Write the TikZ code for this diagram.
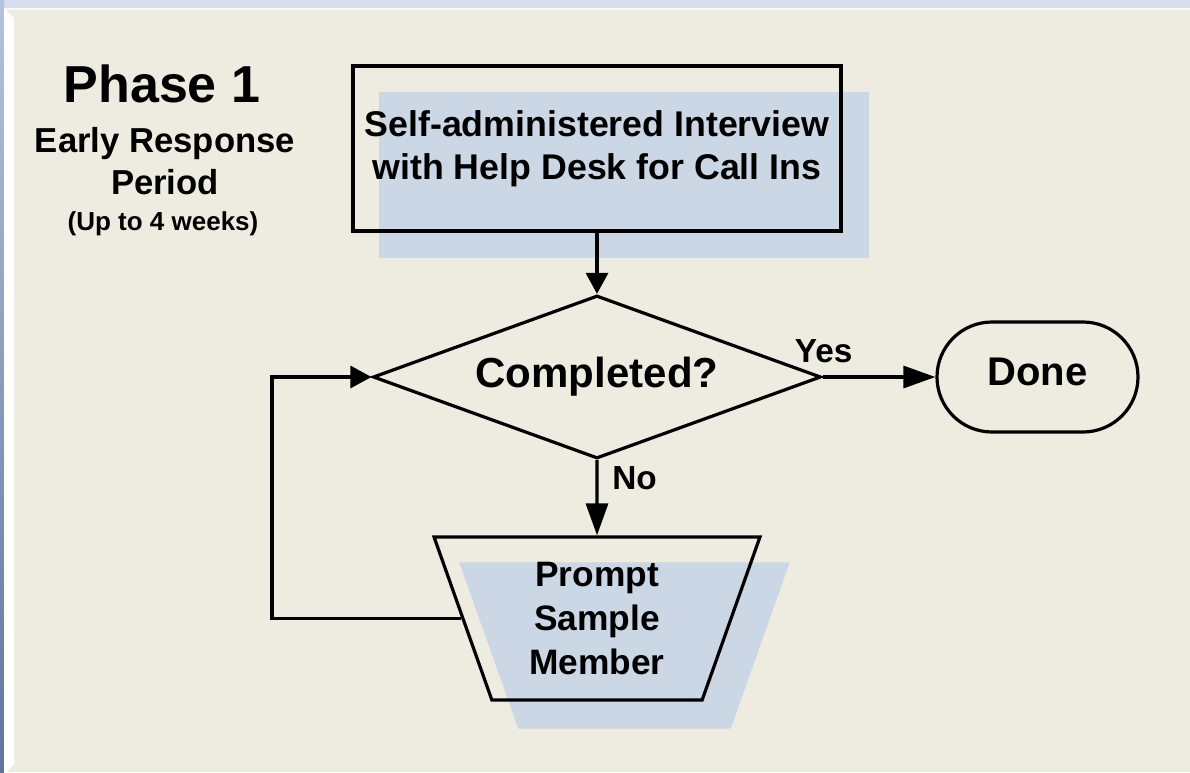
\documentclass[tikz,border=0pt]{standalone}
\usepackage{fontspec}
\setmainfont{Liberation Sans}
\usetikzlibrary{shapes.geometric,shapes.misc,arrows.meta,backgrounds,calc}

\definecolor{paper}{HTML}{EEECE1}
\definecolor{shadowblue}{HTML}{CBD7E5}
\definecolor{framelite}{HTML}{D5DDEE}
\definecolor{frametop}{HTML}{B3C2DE}
\definecolor{framebot}{HTML}{61759B}

\tikzset{
  flow/.style={draw=black, line width=2.4pt, align=center, inner sep=0pt},
  processbox/.style={flow, rectangle, minimum width=366pt, minimum height=123.75pt,
    font=\fontsize{26.8}{32.25}\selectfont\bfseries},
  decision/.style={flow, diamond, aspect=2.75, minimum width=336pt, minimum height=122.25pt,
    font=\fontsize{31.5}{36}\selectfont\bfseries},
  terminal/.style={flow, rounded rectangle, minimum width=150.75pt, minimum height=82.5pt,
    text depth=8pt, font=\fontsize{30}{36}\selectfont\bfseries},
  manual/.style={flow, trapezium, shape border rotate=180,
    trapezium left angle=71.7, trapezium right angle=71.7, trapezium stretches=true,
    minimum width=244.5pt, minimum height=122.25pt,
    font=\fontsize{26.5}{33}\selectfont\bfseries},
  link/.style={line width=2.4pt},
  shorttip/.style={-{Triangle[length=15.75pt,width=16.5pt]}},
  longtip/.style={-{Triangle[length=24pt,width=16.5pt]}},
  branch/.style={font=\fontsize{25}{30}\selectfont\bfseries, inner sep=0pt, anchor=base west},
  heading/.style={inner sep=0pt, anchor=base},
}

\begin{document}
\begin{tikzpicture}[x=0.75pt, y=-0.75pt]
\useasboundingbox (0,0) rectangle (1190,772);

% phase title
\node[heading, font=\fontsize{39}{44}\selectfont\bfseries] (title) at (162,102) {Phase 1};
\node[heading, font=\fontsize{26}{31.5}\selectfont\bfseries] (period1) at (165,152) {Early Response};
\node[heading, font=\fontsize{26}{31.5}\selectfont\bfseries] (period2) at (165,194) {Period};
\node[heading, font=\fontsize{19.5}{24}\selectfont\bfseries] (weeks) at (163,230) {(Up to 4 weeks)};

% flow shapes
\node[processbox] (box) at (597,148.5) {Self-administered Interview\\with Help Desk for Call Ins};
\node[decision] (dia) at (597,377) {Completed?};
\node[terminal] (done) at (1037.5,377) {Done};
\node[manual] (prompt) at (597,618.5) {Prompt\\Sample\\Member};
\coordinate (bend) at (272,500);

% connectors
\draw[link, shorttip] (box.south) -- (dia.north);
\draw[link, longtip] (dia.east) -- (done.west);
\draw[link, longtip] (dia.south) -- (prompt.north);
\draw[link, shorttip] (prompt.west) -| (bend) |- (dia.west);

% branch labels
\node[branch] (yes) at ([shift={(-28,-15)}]dia.east) {Yes};
\node[branch] (no) at ([shift={(15,29)}]dia.south) {No};

\begin{scope}[on background layer]
  % page and frame
  \fill[paper] (0,0) rectangle (1190,772);
  \fill[framelite] (0,0) rectangle (1190,8);
  \fill[white!70!paper] (4,8) rectangle (1190,9.5);
  \shade[top color=frametop, bottom color=framebot] (0,0) rectangle (4,772);
  \fill[white] (4,8) -- (14,18) -- (14,764) -- (6,772) -- (4,772) -- cycle;
  % drop shadows
  \fill[shadowblue] ([shift={(28,28)}]box.north west) rectangle ([shift={(26,25)}]box.south east);
  \fill[shadowblue] ([shift={(27.5,27)}]prompt.top left corner) -- ([shift={(27.5,27)}]prompt.top right corner)
    -- ([shift={(27.5,27)}]prompt.bottom right corner) -- ([shift={(27.5,27)}]prompt.bottom left corner) -- cycle;
\end{scope}
\end{tikzpicture}
\end{document}
